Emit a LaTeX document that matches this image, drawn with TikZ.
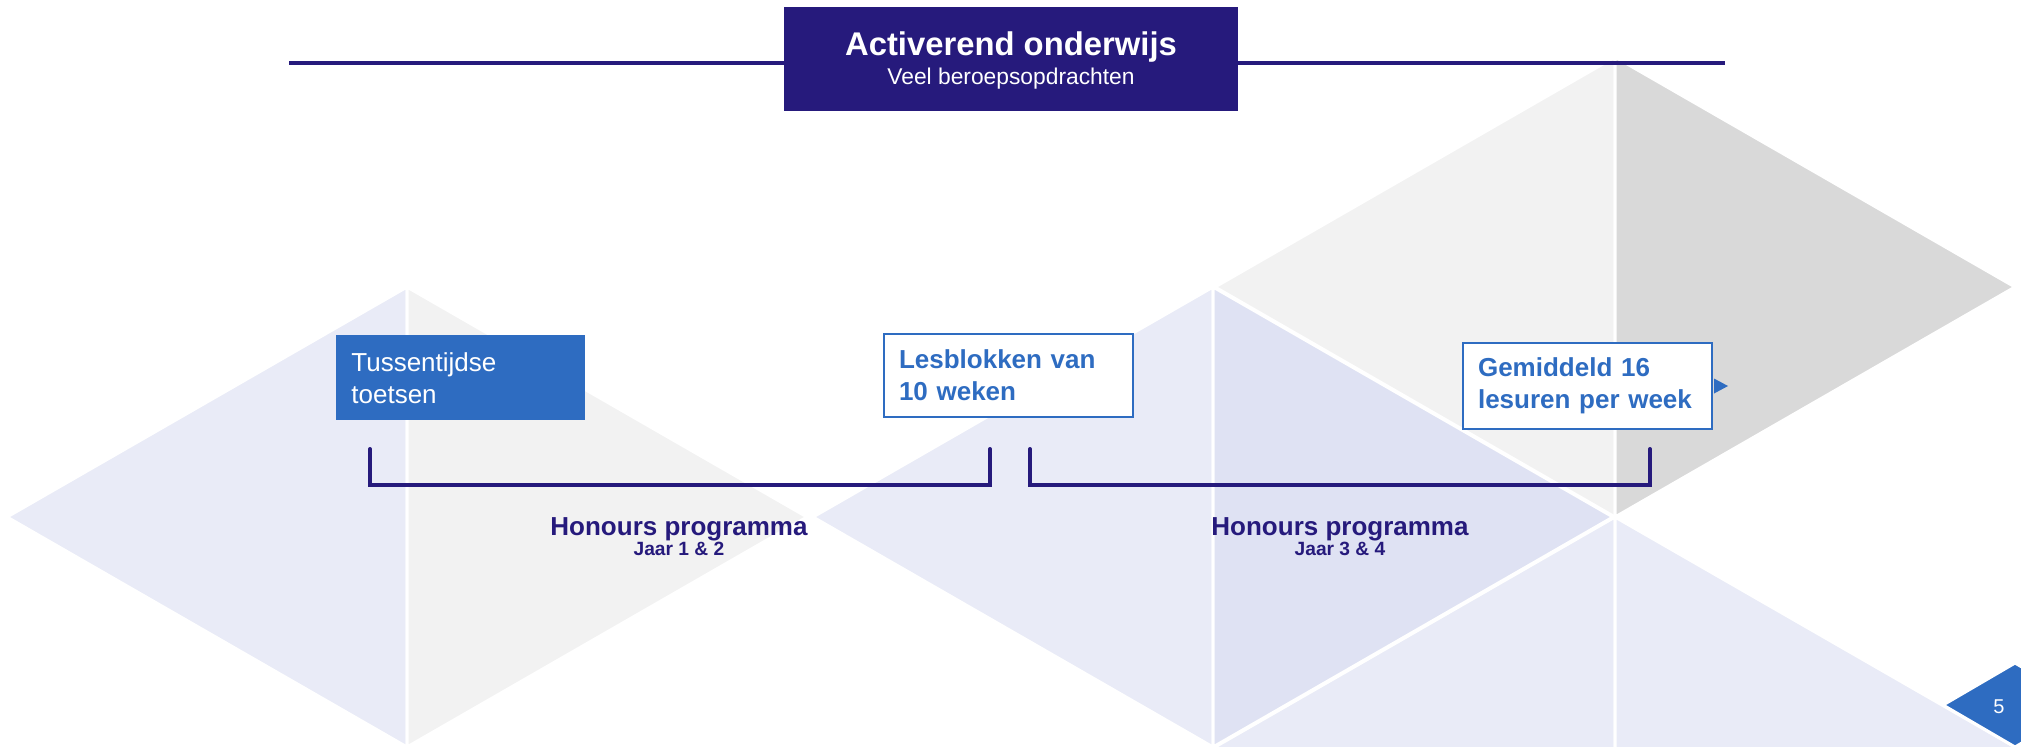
\documentclass[tikz,border=0pt]{standalone}
\usepackage{fontspec}
\setmainfont{Liberation Sans}
\definecolor{navy}{HTML}{261A7C}
\definecolor{accent}{HTML}{2E6CC1}
\definecolor{lav}{HTML}{E9EBF7}
\definecolor{lavdark}{HTML}{DFE2F3}
\definecolor{greylight}{HTML}{F2F2F2}
\definecolor{greymid}{HTML}{D9D9D9}
\begin{document}
\begin{tikzpicture}[x=0.5pt,y=-0.5pt,
  tile/.style={draw=white,line width=1.5pt,line join=miter},
  infobox/.style={rectangle,anchor=north west,minimum width=124.5pt,inner xsep=7.5pt,
    text width=109.5pt,align=left,font=\fontsize{13}{16}\selectfont},
  bracketline/.style={draw=navy,line width=2pt,line cap=round,line join=miter},
  progtitle/.style={text=navy,font=\bfseries\fontsize{13}{15}\selectfont,anchor=base},
  progsub/.style={text=navy,font=\bfseries\fontsize{9.6}{11}\selectfont,anchor=base}]
\useasboundingbox (0,0) rectangle (2021,746);
\fill[white] (0,0) rectangle (2021,746);
\begin{scope}
\clip (0,0) rectangle (2021,746);
% left diamond
\filldraw[tile,fill=lav] (7,517) -- (407,287) -- (407,747) -- cycle;
\filldraw[tile,fill=greylight] (407,287) -- (807,517) -- (407,747) -- cycle;
% middle diamond
\filldraw[tile,fill=lav] (813,517) -- (1213,287) -- (1213,747) -- cycle;
\filldraw[tile,fill=lavdark] (1213,287) -- (1613,517) -- (1213,747) -- cycle;
% top right diamond
\filldraw[tile,fill=greylight] (1215,287) -- (1615,57) -- (1615,517) -- cycle;
\filldraw[tile,fill=greymid] (1615,57) -- (2015,287) -- (1615,517) -- cycle;
% bottom right diamond
\filldraw[tile,fill=lav] (1215,747) -- (1615,517) -- (1615,977) -- cycle;
\filldraw[tile,fill=lav] (1615,517) -- (2015,747) -- (1615,977) -- cycle;
% page marker
\filldraw[tile,fill=accent] (1943,705) -- (2015,663) -- (2087,705) -- (2015,747) -- cycle;
\end{scope}
\node[text=white,font=\fontsize{10}{12}\selectfont] (pagenum) at (1999,707) {5};

% header
\coordinate (hl) at (289,63);
\coordinate (hr) at (1725,63);
\draw[navy,line width=1.75pt] (hl) -- (hr);
\node[rectangle,fill=navy,minimum width=227pt,minimum height=52pt,inner sep=0pt] (head) at (1011,59) {};
\node[text=white,font=\bfseries\fontsize{16.4}{18}\selectfont,anchor=base] (title) at (1011,55.5) {Activerend onderwijs};
\node[text=white,font=\fontsize{11.4}{13}\selectfont,anchor=base] (subtitle) at (1011,84) {Veel beroepsopdrachten};

% info boxes
\node[infobox,fill=accent,text=white,minimum height=42.5pt] (toets) at (336,335) {Tussentijdse\\toetsen};
\node[infobox,fill=white,draw=accent,line width=1pt,text=accent,font=\bfseries\fontsize{13}{16}\selectfont,minimum height=41.5pt] (les) at (883,333) {Lesblokken van\\10 weken};
\node[infobox,fill=white,draw=accent,line width=1pt,text=accent,font=\bfseries\fontsize{13}{16}\selectfont,minimum height=43pt] (gem) at (1462,342) {Gemiddeld 16\\lesuren per week};
\fill[accent] ([xshift=0.5pt]gem.east) ++(0,-7.5) -- ++(14,7.5) -- ++(-14,7.5) -- cycle;

% brackets
\coordinate (b1a) at (370,449);
\coordinate (b1b) at (370,485);
\coordinate (b1c) at (990,485);
\coordinate (b1d) at (990,449);
\coordinate (b2a) at (1030,449);
\coordinate (b2b) at (1030,485);
\coordinate (b2c) at (1650,485);
\coordinate (b2d) at (1650,449);
\draw[bracketline] (b1a) -- (b1b) -- (b1c) -- (b1d);
\draw[bracketline] (b2a) -- (b2b) -- (b2c) -- (b2d);

\node[progtitle] (hp1) at (679,535) {Honours programma};
\node[progsub] (j1) at (679,555) {Jaar 1 \& 2};
\node[progtitle] (hp2) at (1340,535) {Honours programma};
\node[progsub] (j2) at (1340,555) {Jaar 3 \& 4};
\end{tikzpicture}
\end{document}
